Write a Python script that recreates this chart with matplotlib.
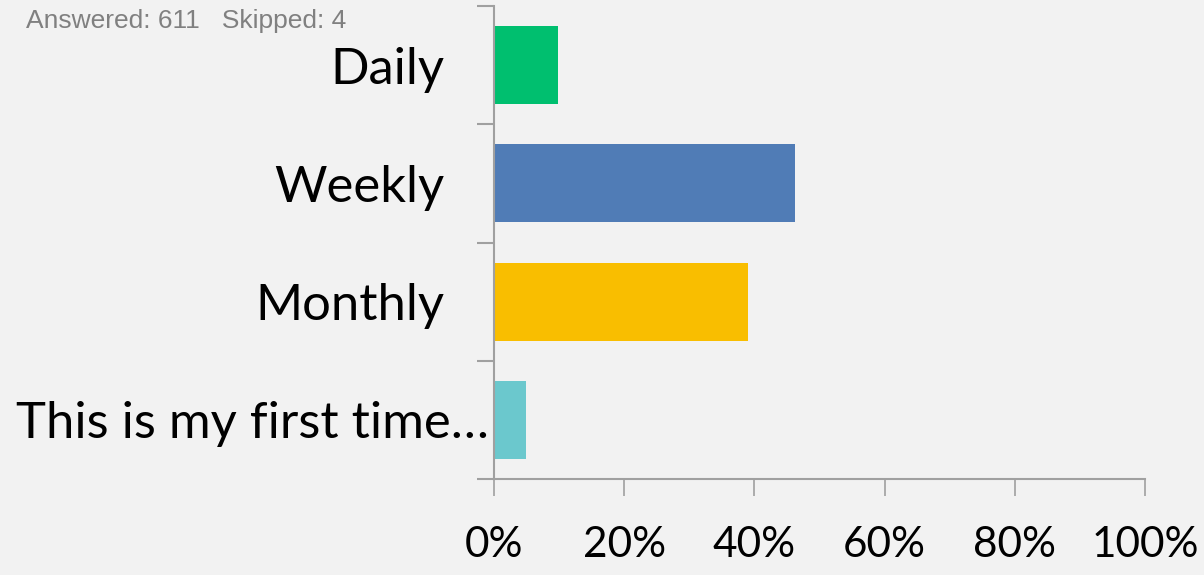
import matplotlib.pyplot as plt
from matplotlib.ticker import FixedLocator

categories = ['Daily', 'Weekly', 'Monthly', 'This is my first time…']
percent = [9.8, 46.2, 39.0, 4.9]
colors = ['#00BF6F', '#507CB6', '#F9BE00', '#6BC8CD']
xticks = [0, 20, 40, 60, 80, 100]
xtick_labels = ['0%', '20%', '40%', '60%', '80%', '100%']

bg = '#F2F2F2'
axis_col = '#A0A0A0'

fig = plt.figure(figsize=(12.04, 5.75), dpi=100, facecolor=bg)
ax = fig.add_axes([494/1204, 1-479/575, (1145-494)/1204, (479-6)/575], facecolor=bg)

ypos = list(range(len(categories)))
ax.barh(ypos, percent, height=0.66, color=colors, zorder=2)
ax.set_ylim(len(categories)-0.5, -0.5)
ax.set_xlim(0, 100)

for s in ['top', 'right']:
    ax.spines[s].set_visible(False)
for s in ['left', 'bottom']:
    ax.spines[s].set_color(axis_col)
    ax.spines[s].set_linewidth(1.5)

# category labels, the long one sits closer to the axis
ax.set_yticks(ypos)
ax.set_yticklabels(categories, fontsize=36.5, fontfamily='Lato')
ax.tick_params(axis='y', which='major', length=0, pad=36)
ax.yaxis.get_major_ticks()[3].set_pad(4)
ax.yaxis.set_minor_locator(FixedLocator([-0.5, 0.5, 1.5, 2.5, 3.5]))
ax.tick_params(axis='y', which='minor', length=12, width=1.5, color=axis_col)

ax.set_xticks(xticks)
ax.set_xticklabels(xtick_labels, fontsize=30.5, fontfamily='Lato')
ax.tick_params(axis='x', length=12, width=1.2, color=axis_col, pad=22)

fig.text(26/1204, 1-28/575, 'Answered: 611   Skipped: 4', fontsize=19,
         color='#808080', fontfamily='Liberation Sans', va='baseline')

fig.savefig('out.png', dpi=100, facecolor=bg)
